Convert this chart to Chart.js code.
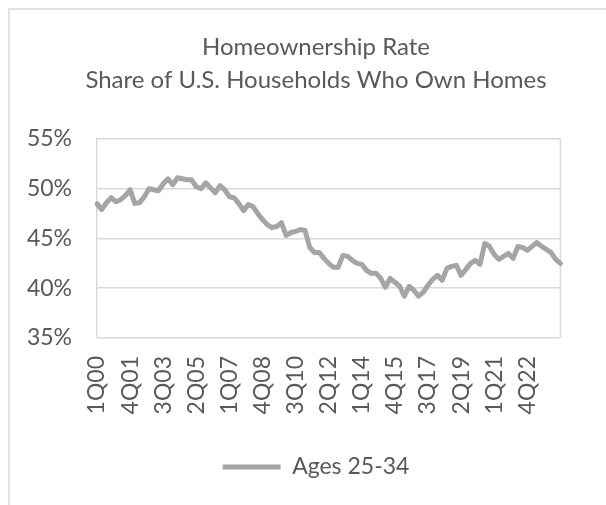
<!DOCTYPE html>
<html lang="en">
<head>
    <meta charset="UTF-8">
    <title>Homeownership Rate</title>
    <script src="https://cdn.jsdelivr.net/npm/chart.js"></script>
    <style>
        html, body { margin: 0; padding: 0; background: #fff; overflow: hidden; }
        #wrap { width: 606px; height: 505px; position: relative; }
    </style>
</head>
<body>
<div id="wrap"><canvas id="homeChart" width="606" height="505"></canvas></div>

<script>
        // quarters 1Q00 .. 3Q24
        const firstYear = 2000;
        const quarterCount = 99;
        const quarters = [];
        for (let i = 0; i < quarterCount; i++) {
            const yy = String((firstYear + Math.floor(i / 4)) % 100).padStart(2, '0');
            quarters.push((i % 4 + 1) + 'Q' + yy);
        }

        const shownTicks = ['1Q00', '4Q01', '3Q03', '2Q05', '1Q07', '4Q08', '3Q10',
            '2Q12', '1Q14', '4Q15', '3Q17', '2Q19', '1Q21', '4Q22'];

        // share of households aged 25-34 owning their home, %
        const ages25to34 = [
            48.5, 47.9, 48.6, 49.1, 48.7, 48.9, 49.3, 49.9, 48.5, 48.6,
            49.2, 50.0, 49.9, 49.8, 50.5, 51.0, 50.4, 51.1, 51.0, 50.9,
            50.9, 50.2, 50.0, 50.6, 50.1, 49.6, 50.3, 49.9, 49.2, 49.1,
            48.5, 47.8, 48.4, 48.2, 47.5, 46.9, 46.4, 46.1, 46.2, 46.6,
            45.3, 45.6, 45.7, 45.9, 45.8, 44.1, 43.6, 43.6, 43.0, 42.5,
            42.1, 42.1, 43.3, 43.2, 42.8, 42.5, 42.4, 41.8, 41.5, 41.5,
            41.0, 40.1, 41.0, 40.6, 40.2, 39.2, 40.2, 39.8, 39.2, 39.6,
            40.3, 40.9, 41.3, 40.8, 42.0, 42.2, 42.3, 41.3, 41.9, 42.5,
            42.8, 42.4, 44.5, 44.2, 43.4, 42.9, 43.2, 43.5, 43.0, 44.2,
            44.1, 43.8, 44.2, 44.6, 44.2, 43.9, 43.6, 42.9, 42.5
        ];

        const textColor = '#595959';
        const gridColor = '#d9d9d9';
        const fontFamily = 'Lato, "Liberation Sans", sans-serif';

        // outer chart border, right edge of the plot area, and centring
        // title/legend on the full chart (which runs past the right edge)
        const frame = {
            id: 'frame',
            afterLayout(chart) {
                const t = chart.titleBlock;
                if (t) { t.left += 24; t.right += 24; }
                const l = chart.legend;
                if (l) { l.left += 24; l.right += 24; }
            },
            beforeDraw(chart) {
                const ctx = chart.ctx;
                ctx.save();
                ctx.fillStyle = '#fff';
                ctx.fillRect(0, 0, chart.width, chart.height);
                ctx.strokeStyle = gridColor;
                ctx.lineWidth = 1.5;
                ctx.strokeRect(9, 9, 800, 800);
                ctx.restore();
            },
            beforeDatasetsDraw(chart) {
                const a = chart.chartArea;
                const ctx = chart.ctx;
                ctx.save();
                ctx.strokeStyle = gridColor;
                ctx.lineWidth = 1.5;
                ctx.beginPath();
                ctx.moveTo(a.right, a.top);
                ctx.lineTo(a.right, a.bottom);
                ctx.stroke();
                ctx.restore();
            }
        };

        const ctx = document.getElementById('homeChart').getContext('2d');
        const homeChart = new Chart(ctx, {
            type: 'line',
            data: {
                labels: quarters,
                datasets: [{
                    label: 'Ages 25-34',
                    data: ages25to34,
                    borderColor: '#a5a5a5',
                    backgroundColor: '#a5a5a5',
                    borderWidth: 5,
                    borderJoinStyle: 'round',
                    borderCapStyle: 'round',
                    pointRadius: 0,
                    tension: 0
                }]
            },
            options: {
                responsive: false,
                animation: false,
                layout: {
                    padding: { top: 31.5, left: 0, right: 22, bottom: 16.5 }
                },
                plugins: {
                    title: {
                        display: true,
                        text: ['Homeownership Rate', 'Share of U.S. Households Who Own Homes'],
                        color: textColor,
                        font: { family: fontFamily, size: 24, weight: 'normal', lineHeight: 1.354 },
                        padding: { top: 0, bottom: 42.5 }
                    },
                    legend: {
                        position: 'bottom',
                        labels: {
                            color: textColor,
                            font: { family: fontFamily, size: 23 },
                            usePointStyle: true,
                            pointStyle: 'line',
                            pointStyleWidth: 58,
                            padding: 10
                        }
                    },
                    tooltip: { enabled: false }
                },
                scales: {
                    x: {
                        offset: false,
                        afterFit: function (axis) { axis.height = 107.5; },
                        grid: { display: false, drawTicks: false },
                        border: { display: false },
                        ticks: {
                            autoSkip: false,
                            maxRotation: 90,
                            minRotation: 90,
                            padding: 18,
                            color: textColor,
                            font: { family: fontFamily, size: 23 },
                            callback: function (value, index) {
                                const lab = quarters[index];
                                return shownTicks.includes(lab) ? lab : '';
                            }
                        }
                    },
                    y: {
                        min: 35,
                        max: 55,
                        afterFit: function (axis) { axis.width = 97; },
                        grid: { color: gridColor, lineWidth: 1.5, drawTicks: false },
                        border: { display: true, color: gridColor, width: 1.5 },
                        ticks: {
                            stepSize: 5,
                            padding: 25,
                            color: textColor,
                            font: { family: fontFamily, size: 23 },
                            callback: v => v + '%'
                        }
                    }
                }
            },
            plugins: [frame]
        });
</script>
</body>
</html>
